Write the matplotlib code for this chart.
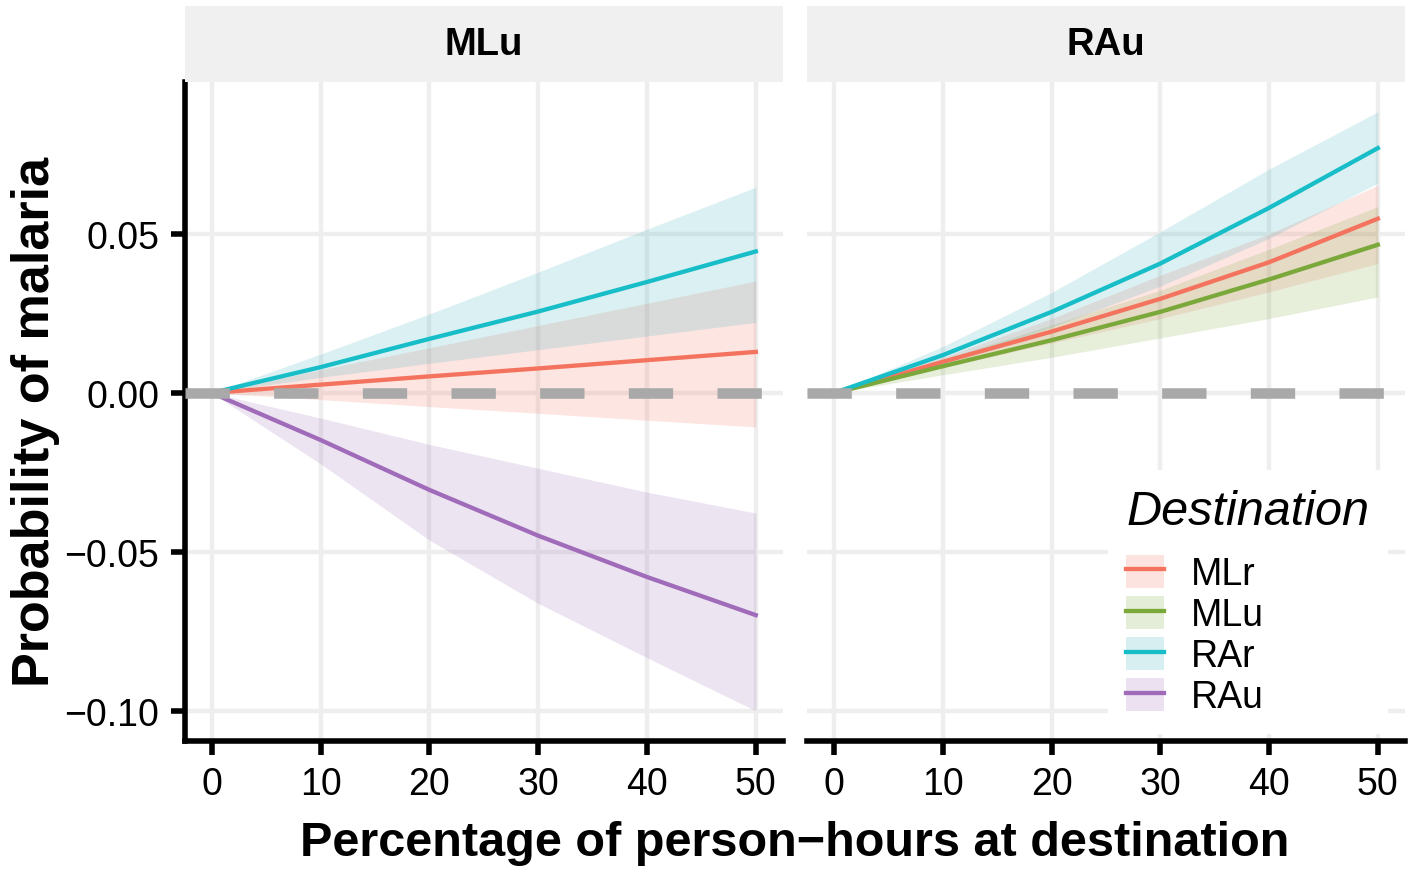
import matplotlib
matplotlib.use("Agg")
import matplotlib.pyplot as plt
from matplotlib.patches import Patch
from matplotlib.lines import Line2D

plt.rcParams['font.family'] = ['Liberation Sans', 'DejaVu Sans']

# percentage of person-hours at destination
x_pct = [0, 10, 20, 30, 40, 50]

# panel "MLu" (origin) -> destinations
mlu_mlr_fit = [0, 0.0026, 0.0052, 0.0077, 0.0103, 0.0129]
mlu_mlr_lo = [0, -0.0021, -0.0043, -0.0064, -0.0086, -0.0107]
mlu_mlr_hi = [0, 0.0073, 0.0142, 0.0212, 0.0282, 0.0352]
mlu_rar_fit = [0, 0.0081, 0.0170, 0.0256, 0.0349, 0.0445]
mlu_rar_lo = [0, 0.0049, 0.0093, 0.0136, 0.0179, 0.0222]
mlu_rar_hi = [0, 0.0122, 0.0248, 0.0380, 0.0515, 0.0647]
mlu_rau_fit = [0, -0.0148, -0.0305, -0.0449, -0.0579, -0.0699]
mlu_rau_lo = [0, -0.0223, -0.0463, -0.0662, -0.0833, -0.1000]
mlu_rau_hi = [0, -0.0079, -0.0162, -0.0237, -0.0312, -0.0378]

# panel "RAu" (origin) -> destinations
rau_mlr_fit = [0, 0.0098, 0.0193, 0.0296, 0.0411, 0.0548]
rau_mlr_lo = [0, 0.0080, 0.0157, 0.0234, 0.0318, 0.0407]
rau_mlr_hi = [0, 0.0112, 0.0234, 0.0370, 0.0500, 0.0653]
rau_mlu_fit = [0, 0.0084, 0.0166, 0.0255, 0.0357, 0.0466]
rau_mlu_lo = [0, 0.0057, 0.0112, 0.0173, 0.0234, 0.0302]
rau_mlu_hi = [0, 0.0105, 0.0214, 0.0323, 0.0452, 0.0586]
rau_rar_fit = [0, 0.0119, 0.0255, 0.0407, 0.0582, 0.0770]
rau_rar_lo = [0, 0.0091, 0.0207, 0.0336, 0.0486, 0.0660]
rau_rar_hi = [0, 0.0146, 0.0316, 0.0507, 0.0704, 0.0884]

destinations = ['MLr', 'MLu', 'RAr', 'RAu']
colors = {'MLr': '#F4735F', 'MLu': '#7AA83A', 'RAr': '#17BEC8', 'RAu': '#A06CBA'}
ribbon_colors = {'MLr': '#F4735F', 'MLu': '#7AA83A', 'RAr': '#3AAFB8', 'RAu': '#A06CBA'}
panels = ['MLu', 'RAu']

panel_series = {
    'MLu': [('MLr', mlu_mlr_fit, mlu_mlr_lo, mlu_mlr_hi),
            ('RAr', mlu_rar_fit, mlu_rar_lo, mlu_rar_hi),
            ('RAu', mlu_rau_fit, mlu_rau_lo, mlu_rau_hi)],
    'RAu': [('MLr', rau_mlr_fit, rau_mlr_lo, rau_mlr_hi),
            ('MLu', rau_mlu_fit, rau_mlu_lo, rau_mlu_hi),
            ('RAr', rau_rar_fit, rau_rar_lo, rau_rar_hi)],
}

W, H = 1419, 870
fig = plt.figure(figsize=(W / 100, H / 100), dpi=100)

top_px, bot_px = 83, 741.7
boxes = [(184.5, 783), (807, 1405)]
axes = []
for i, (l, r) in enumerate(boxes):
    ax = fig.add_axes([l / W, 1 - bot_px / H, (r - l) / W, (bot_px - top_px) / H])
    axes.append(ax)
    # facet strip on top
    sax = fig.add_axes([l / W, 1 - top_px / H, (r - l) / W, (top_px - 7) / H])
    sax.set_facecolor('#F0F0F0')
    sax.set_xticks([])
    sax.set_yticks([])
    for s in sax.spines.values():
        s.set_visible(False)
    sax.text(0.5, 0.5, panels[i], transform=sax.transAxes, ha='center', va='center',
             fontsize=27.5, fontweight='bold')

for ax, pname in zip(axes, panels):
    for dest, fit, lo, hi in panel_series[pname]:
        ax.fill_between(x_pct, lo, hi, color=ribbon_colors[dest], alpha=0.18, lw=0, zorder=2)
    for dest, fit, lo, hi in panel_series[pname]:
        ax.plot(x_pct, fit, color=colors[dest], lw=3.1, zorder=3, solid_joinstyle='round')
    ax.axhline(0, color='#A9A9A9', lw=7.6, dashes=(4.2, 4.2), zorder=4)
    ax.set_xlim(-2.5, 52.5)
    ax.set_ylim(-0.1094, 0.0978)
    ax.set_xticks([0, 10, 20, 30, 40, 50])
    ax.set_yticks([-0.10, -0.05, 0.00, 0.05])
    ax.grid(True, color='#EEEEEE', lw=3.2)
    ax.set_axisbelow(True)
    for s in ['top', 'right']:
        ax.spines[s].set_visible(False)
    ax.spines['bottom'].set_linewidth(4)
    ax.spines['left'].set_linewidth(4)
    ax.tick_params(axis='both', width=4, length=10, pad=8, labelsize=27, color='black')

axes[0].set_yticklabels(['\u22120.10', '\u22120.05', '0.00', '0.05'])
axes[1].spines['left'].set_visible(False)
axes[1].tick_params(axis='y', left=False, labelleft=False)

fig.text(795 / W, 1 - 856 / H, 'Percentage of person\u2212hours at destination',
         ha='center', va='baseline', fontsize=35, fontweight='bold')
fig.text(36 / W, 1 - 422 / H, 'Probability of malaria', rotation=90,
         ha='center', va='center', fontsize=37.5, fontweight='bold')

handles = [(Patch(facecolor=ribbon_colors[d], alpha=0.2, edgecolor='none'),
            Line2D([], [], color=colors[d], lw=3.1)) for d in destinations]
leg = axes[1].legend(handles, destinations, loc='lower right',
                     bbox_to_anchor=(1388 / W, 1 - 735 / H), bbox_transform=fig.transFigure,
                     fontsize=27, title='Destination',
                     title_fontproperties={'style': 'italic', 'size': 35},
                     frameon=True, fancybox=False, framealpha=1, facecolor='white',
                     edgecolor='none', handlelength=1.0, handleheight=0.97,
                     labelspacing=0.1, handletextpad=0.72, borderpad=0.5,
                     borderaxespad=0, alignment='left')
leg._legend_box.sep = 15
leg.set_zorder(10)

fig.savefig('out.png', dpi=100)
